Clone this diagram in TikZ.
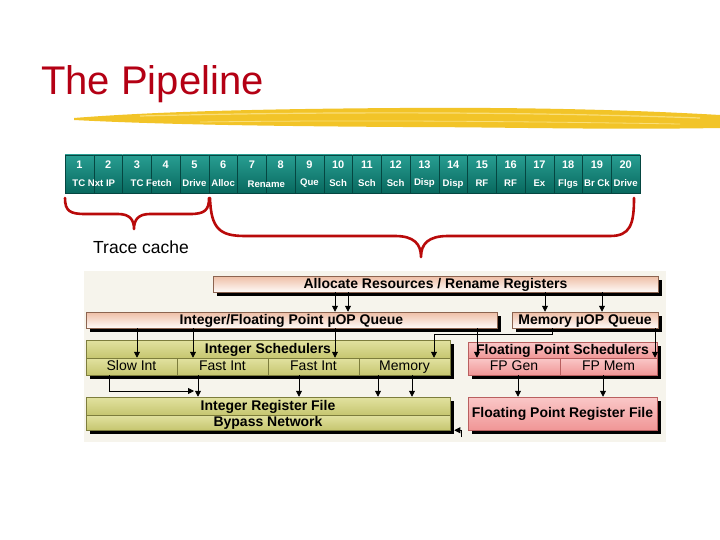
\documentclass[tikz,border=0pt]{standalone}
\usepackage{fontspec}
\setmainfont{Liberation Sans}
\usetikzlibrary{arrows.meta,shadows,calc}
\definecolor{titlered}{RGB}{180,0,20}
\definecolor{bracered}{RGB}{185,10,10}
\definecolor{brush}{RGB}{242,196,40}
\definecolor{brushL}{RGB}{250,222,120}
\definecolor{tealT}{RGB}{40,158,146}
\definecolor{tealB}{RGB}{8,104,94}
\definecolor{tealD}{RGB}{5,70,65}
\definecolor{peachE}{RGB}{238,190,165}
\definecolor{peachD}{RGB}{140,100,80}
\definecolor{oliveT}{RGB}{226,226,160}
\definecolor{oliveB}{RGB}{198,198,112}
\definecolor{oliveD}{RGB}{125,125,60}
\definecolor{pinkT}{RGB}{250,200,200}
\definecolor{pinkB}{RGB}{240,150,150}
\definecolor{pinkD}{RGB}{185,95,95}
\definecolor{bgcream}{RGB}{246,244,236}
\tikzset{
  cell/.style={draw=tealD, line width=0.5pt, top color=tealT, bottom color=tealB,
    minimum width=28.75pt, minimum height=38pt, inner sep=0pt},
  num/.style={text=white, font=\bfseries\fontsize{11}{11}\selectfont, inner sep=0pt},
  lab/.style={text=white, font=\bfseries\fontsize{9.6}{9.6}\selectfont, inner sep=0pt},
  boxtext/.style={text height=10pt, text depth=2pt},
  qbox/.style={draw=peachD, line width=0.5pt, top color=peachE, bottom color=white!92!peachE,
    inner sep=0pt, minimum height=16pt, boxtext, font=\bfseries\fontsize{14}{14}\selectfont,
    general shadow={fill=black, shadow xshift=4pt, shadow yshift=-4pt}},
  obox/.style={draw=oliveD, line width=0.5pt, top color=oliveT, bottom color=oliveB,
    inner sep=0pt, boxtext, font=\bfseries\fontsize{14}{14}\selectfont},
  ocell/.style={obox, font=\fontsize{14}{14}\selectfont},
  pbox/.style={draw=pinkD, line width=0.5pt, top color=pinkT, bottom color=pinkB,
    inner sep=0pt, boxtext, font=\bfseries\fontsize{14}{14}\selectfont},
  pcell/.style={pbox, font=\fontsize{14}{14}\selectfont},
  arr/.style={draw=black, line width=0.8pt, -{Triangle[length=6pt,width=6pt]}},
  brace/.style={draw=bracered, line width=2.6pt, line cap=round, line join=round},
}
\begin{document}
\begin{tikzpicture}[x=1pt,y=-1pt]
\useasboundingbox[fill=white] (0,0) rectangle (720,540);

% title and brush stroke
\node[anchor=base west, text=titlered, font=\fontsize{40}{40}\selectfont, inner sep=0pt] (title) at (41,95) {The Pipeline};
\fill[brush] (74,118) .. controls (150,112) and (250,109) .. (400,108)
  .. controls (550,107) and (650,111) .. (720,115) -- (720,128)
  .. controls (600,130) and (500,127) .. (400,127)
  .. controls (250,126) and (150,124) .. (74,120) -- cycle;
\draw[brushL, line width=1.2pt] (140,116) .. controls (300,112) and (500,111) .. (700,118);
\draw[brushL, line width=0.8pt] (200,122) .. controls (350,120) and (500,121) .. (680,124);

% pipeline stages
\foreach \i in {1,...,20} {
  \node[cell] (c\i) at ({65+28.75*(\i-0.5)},174) {};
  \node[num] (n\i) at ({65+28.75*(\i-0.5)},165) {\i};
}
\node[lab] (l1) at (93.75,183) {TC Nxt IP};
\node[lab] (l3) at (151.25,183) {TC Fetch};
\node[lab] (l5) at (194.4,183) {Drive};
\node[lab] (l6) at (223.1,183) {Alloc};
\node[lab] (l7) at (266.25,184) {Rename};
\node[lab] (l9) at (309.4,183) {Que};
\node[lab] (l10) at (338.1,183) {Sch};
\node[lab] (l11) at (366.9,183) {Sch};
\node[lab] (l12) at (395.6,183) {Sch};
\node[lab] (l13) at (424.4,183) {Disp};
\node[lab] (l14) at (453.1,184) {Disp};
\node[lab] (l15) at (481.9,183) {RF};
\node[lab] (l16) at (510.6,183) {RF};
\node[lab] (l17) at (539.4,183) {Ex};
\node[lab] (l18) at (568.1,184) {Flgs};
\node[lab] (l19) at (596.9,183) {Br Ck};
\node[lab] (l20) at (625.6,183) {Drive};

% braces
\draw[brace] (65,198) .. controls (65,211) and (70,214) .. (85,214) -- (118,214)
  .. controls (130,214) and (134,220) .. (134,229)
  .. controls (134,220) and (138,214) .. (150,214) -- (190,214)
  .. controls (205,214) and (209,210) .. (209,198);
\draw[brace] (210,198) .. controls (211,229) and (220,236) .. (245,236) -- (395,236)
  .. controls (414,236) and (421,244) .. (421,257)
  .. controls (421,244) and (428,236) .. (448,236) -- (610,236)
  .. controls (630,236) and (634,225) .. (634,198);
\node[anchor=base west, font=\fontsize{17.5}{17.5}\selectfont, inner sep=0pt] (tc) at (93,254) {Trace cache};

% lower diagram background
\fill[bgcream] (84,271) rectangle (666,442);

% queues
\node[qbox, minimum width=445pt] (alloc) at (435.5,284) {Allocate Resources / Rename Registers};
\node[qbox, minimum width=411pt] (intq) at (291.5,320) {Integer/Floating Point µOP Queue};
\node[qbox, minimum width=146pt] (memq) at (585,320) {Memory µOP Queue};

% shadows of blocks
\fill[black] (90,344) rectangle (454,379);
\fill[black] (90,401) rectangle (454,434);
\fill[black] (472,346) rectangle (661,379);
\fill[black] (472,401) rectangle (661,434);

% integer schedulers
\node[obox, minimum width=364pt, minimum height=18pt] (isch) at (268,349) {Integer Schedulers};
\node[ocell, minimum width=91pt, minimum height=17pt] (slow) at (131.5,366.5) {Slow Int};
\node[ocell, minimum width=91pt, minimum height=17pt] (fast1) at (222.5,366.5) {Fast Int};
\node[ocell, minimum width=91pt, minimum height=17pt] (fast2) at (313.5,366.5) {Fast Int};
\node[ocell, minimum width=91pt, minimum height=17pt] (memc) at (404.5,366.5) {Memory};

% integer register file
\node[obox, minimum width=364pt, minimum height=18pt] (irf) at (268,406) {Integer Register File};
\node[obox, minimum width=364pt, minimum height=15pt] (bypass) at (268,422.5) {Bypass Network};

% floating point
\node[pbox, minimum width=189pt, minimum height=16pt] (fpsch) at (562.5,350) {Floating Point Schedulers};
\node[pcell, minimum width=92pt, minimum height=17pt] (fpgen) at (514,366.5) {FP Gen};
\node[pcell, minimum width=97pt, minimum height=17pt] (fpmem) at (608.5,366.5) {FP Mem};
\node[pbox, minimum width=189pt, minimum height=33pt] (fprf) at (562.5,413.5) {Floating Point Register File};

% connectors: allocate -> queues
\draw[arr] (335,0 |- alloc.south) -- (335,0 |- intq.north);
\draw[arr] (348,0 |- alloc.south) -- (348,0 |- intq.north);
\draw[arr] (545,0 |- alloc.south) -- (545,0 |- memq.north);
\draw[arr] (602,0 |- alloc.south) -- (602,0 |- memq.north);

% queues -> schedulers
\draw[arr] (137,0 |- intq.south) -- (137,0 |- slow.north);
\draw[arr] (193,0 |- intq.south) -- (193,0 |- fast1.north);
\draw[arr] (335,0 |- intq.south) -- (335,0 |- fast2.north);
\draw[arr] (477,0 |- intq.south) -- (477,0 |- fpgen.north);
\draw[arr] (552,0 |- memq.south) |- (434,334) -- (434,0 |- memc.north);
\draw[arr] (655,0 |- memq.south) -- (655,0 |- fpmem.north);

% schedulers -> register files
\draw[arr] (109,0 |- slow.south) |- (194,391);
\draw[arr] (198,0 |- fast1.south) -- (198,0 |- irf.north);
\draw[arr] (299,0 |- fast2.south) -- (299,0 |- irf.north);
\draw[arr] (378,0 |- memc.south) -- (378,0 |- irf.north);
\draw[arr] (412,0 |- memc.south) -- (412,0 |- irf.north);
\draw[arr] (518,0 |- fpgen.south) -- (518,0 |- fprf.north);
\draw[arr] (603,0 |- fpmem.south) -- (603,0 |- fprf.north);
\draw[arr] (461,437) |- ([xshift=4pt]bypass.south east);
\end{tikzpicture}
\end{document}
